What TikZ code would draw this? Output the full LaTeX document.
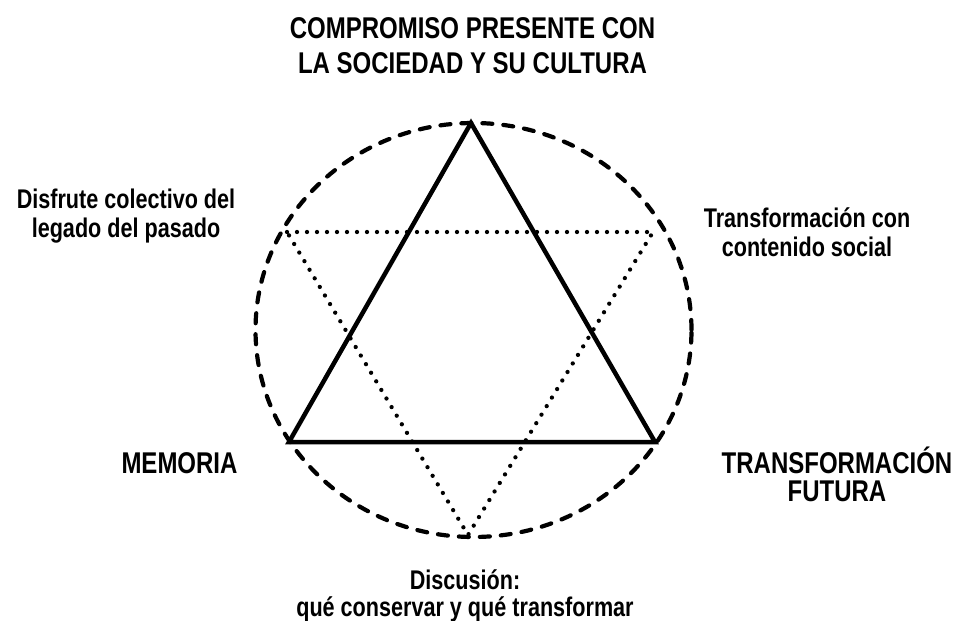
\documentclass[tikz,border=0pt]{standalone}
\usepackage{fontspec}
\setmainfont[FakeStretch=0.8]{Liberation Sans}
\begin{document}
\begin{tikzpicture}[x=1pt,y=-1pt,
  solidline/.style={line width=4.5pt, line join=miter},
  dotline/.style={line width=4.3pt, line cap=round, dash pattern=on 0pt off 10pt},
  dashline/.style={line width=4.2pt, line cap=round, dash pattern=on 10pt off 11pt},
  bigtxt/.style={anchor=base, inner sep=0pt, font=\fontsize{30}{35}\selectfont\bfseries},
  smalltxt/.style={anchor=base, inner sep=0pt, font=\fontsize{27}{29}\selectfont\bfseries}]
\useasboundingbox (0,0) rectangle (959,621);
% ellipse
\coordinate (c) at (473.5,330);
\draw[dashline] (c) ellipse [x radius=218pt, y radius=207pt];
% solid triangle
\coordinate (apex) at (471,123);
\coordinate (bl) at (289,442);
\coordinate (br) at (655,442);
\draw[solidline] (apex) -- (br) -- (bl) -- cycle;
% dotted triangle
\coordinate (tl) at (287,232);
\coordinate (tr) at (653,232);
\coordinate (bot) at (468,535);
\draw[dotline] (tl) -- (tr) -- (bot) -- cycle;
% labels
\node[bigtxt] (title) at (472.5,38) {\begin{tabular}[t]{@{}c@{}}COMPROMISO PRESENTE CON\\[0pt]LA SOCIEDAD Y SU CULTURA\end{tabular}};
\node[smalltxt] (disfrute) at (126,208) {\begin{tabular}[t]{@{}c@{}}Disfrute colectivo del\\legado del pasado\end{tabular}};
\node[smalltxt] (transcon) at (807,227) {\begin{tabular}[t]{@{}c@{}}Transformación con\\contenido social\end{tabular}};
\node[bigtxt] (memoria) at (179.5,473) {MEMORIA};
\node[bigtxt, font=\fontsize{30}{27}\selectfont\bfseries] (futura) at (837,473) {\begin{tabular}[t]{@{}c@{}}TRANSFORMACIÓN\\FUTURA\end{tabular}};
\node[smalltxt, font=\fontsize{27}{26}\selectfont\bfseries] (disc) at (465,589) {\begin{tabular}[t]{@{}c@{}}Discusión:\\qué conservar y qué transformar\end{tabular}};
\end{tikzpicture}
\end{document}
